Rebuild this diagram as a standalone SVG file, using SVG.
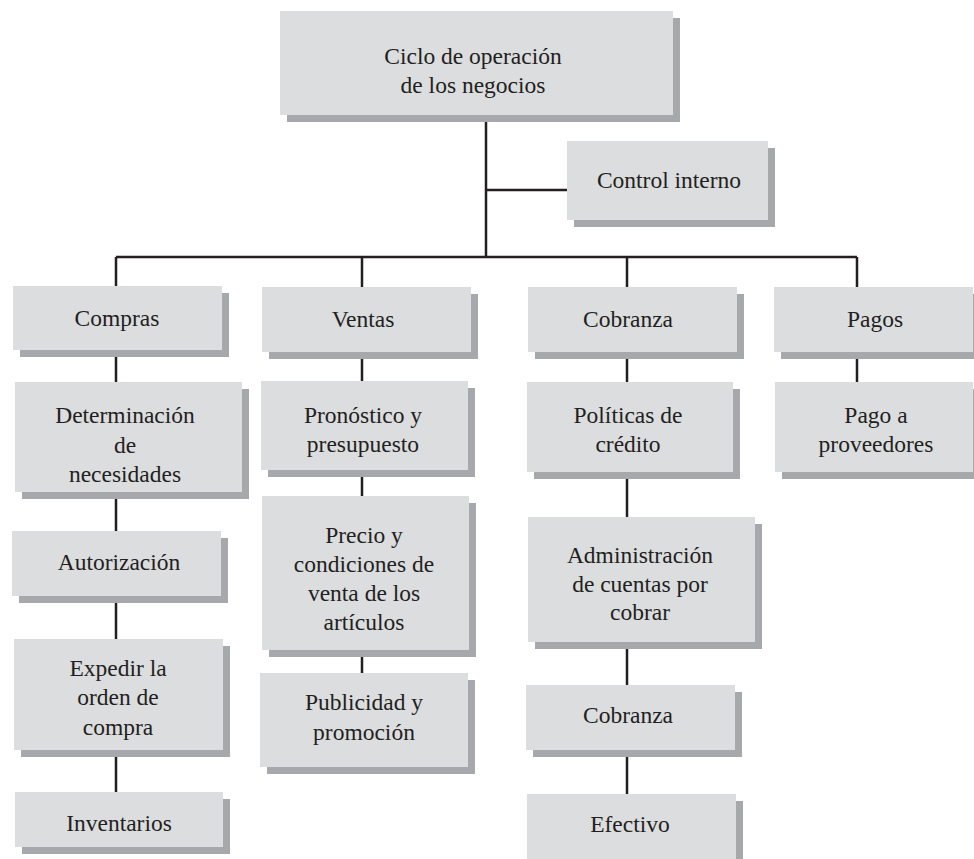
<svg xmlns="http://www.w3.org/2000/svg" width="974" height="859" viewBox="0 0 974 859">
<style>
.bx{fill:#dcdddf}
.sh{fill:#a7a8ab}
.t{font-family:"Liberation Serif","Times New Roman",serif;font-size:23.5px;fill:#231f20;text-anchor:middle}
.c{stroke:#231f20;stroke-width:2.5;fill:none}
</style>
<rect width="974" height="859" fill="#ffffff"/>
<g id="connectors" class="c">
<path d="M486 115V257"/>
<path d="M486 190H567"/>
<path d="M116 257H857"/>
<path d="M116 257V286M116 350V382M116 492V531M116 596V639M116 750V792"/>
<path d="M362 257V287M362 352V381M362 470V496M362 650V673"/>
<path d="M627 257V287M627 352V382M627 472V517M627 642V685M627 750V794"/>
<path d="M857 257V287M857 352V382"/>
</g>
<g id="n-ciclo"><rect class="sh" x="287" y="18" width="393" height="104"/><rect class="bx" x="280" y="11" width="393" height="104"/><text class="t" x="473" y="64">Ciclo de operación</text><text class="t" x="473" y="93">de los negocios</text></g>
<g id="n-control"><rect class="sh" x="574" y="148" width="201" height="79"/><rect class="bx" x="567" y="141" width="201" height="79"/><text class="t" x="669" y="188">Control interno</text></g>
<g id="n-compras"><rect class="sh" x="20" y="293" width="209" height="64"/><rect class="bx" x="13" y="286" width="209" height="64"/><text class="t" x="117" y="326">Compras</text></g>
<g id="n-determ"><rect class="sh" x="22" y="389" width="227" height="110"/><rect class="bx" x="15" y="382" width="227" height="110"/><text class="t" x="125" y="423">Determinación</text><text class="t" x="125" y="453">de</text><text class="t" x="125" y="482">necesidades</text></g>
<g id="n-autor"><rect class="sh" x="19" y="538" width="209" height="65"/><rect class="bx" x="12" y="531" width="209" height="65"/><text class="t" x="119" y="570">Autorización</text></g>
<g id="n-expedir"><rect class="sh" x="21" y="646" width="209" height="111"/><rect class="bx" x="14" y="639" width="209" height="111"/><text class="t" x="118" y="676">Expedir la</text><text class="t" x="118" y="705">orden de</text><text class="t" x="118" y="735">compra</text></g>
<g id="n-invent"><rect class="sh" x="22" y="799" width="208" height="55"/><rect class="bx" x="15" y="792" width="208" height="55"/><text class="t" x="119" y="831">Inventarios</text></g>
<g id="n-ventas"><rect class="sh" x="269" y="294" width="209" height="65"/><rect class="bx" x="262" y="287" width="209" height="65"/><text class="t" x="363" y="327">Ventas</text></g>
<g id="n-pronost"><rect class="sh" x="268" y="388" width="207" height="89"/><rect class="bx" x="261" y="381" width="207" height="89"/><text class="t" x="363" y="423">Pronóstico y</text><text class="t" x="363" y="452">presupuesto</text></g>
<g id="n-precio"><rect class="sh" x="269" y="503" width="207" height="154"/><rect class="bx" x="262" y="496" width="207" height="154"/><text class="t" x="364" y="543">Precio y</text><text class="t" x="364" y="572">condiciones de</text><text class="t" x="364" y="601">venta de los</text><text class="t" x="364" y="630">artículos</text></g>
<g id="n-public"><rect class="sh" x="267" y="680" width="208" height="94"/><rect class="bx" x="260" y="673" width="208" height="94"/><text class="t" x="364" y="710">Publicidad y</text><text class="t" x="364" y="740">promoción</text></g>
<g id="n-cobranza"><rect class="sh" x="535" y="294" width="209" height="65"/><rect class="bx" x="528" y="287" width="209" height="65"/><text class="t" x="628" y="327">Cobranza</text></g>
<g id="n-politicas"><rect class="sh" x="534" y="389" width="206" height="90"/><rect class="bx" x="527" y="382" width="206" height="90"/><text class="t" x="628" y="423">Políticas de</text><text class="t" x="628" y="452">crédito</text></g>
<g id="n-admin"><rect class="sh" x="535" y="524" width="227" height="125"/><rect class="bx" x="528" y="517" width="227" height="125"/><text class="t" x="640" y="563">Administración</text><text class="t" x="640" y="592">de cuentas por</text><text class="t" x="640" y="620">cobrar</text></g>
<g id="n-cobranza2"><rect class="sh" x="533" y="692" width="209" height="65"/><rect class="bx" x="526" y="685" width="209" height="65"/><text class="t" x="628" y="723">Cobranza</text></g>
<g id="n-efectivo"><rect class="sh" x="534" y="801" width="209" height="66"/><rect class="bx" x="527" y="794" width="209" height="66"/><text class="t" x="630" y="832">Efectivo</text></g>
<g id="n-pagos"><rect class="sh" x="781" y="294" width="199" height="65"/><rect class="bx" x="774" y="287" width="199" height="65"/><text class="t" x="875" y="327">Pagos</text></g>
<g id="n-pagoprov"><rect class="sh" x="782" y="389" width="198" height="90"/><rect class="bx" x="775" y="382" width="198" height="90"/><text class="t" x="876" y="423">Pago a</text><text class="t" x="876" y="452">proveedores</text></g>
</svg>
